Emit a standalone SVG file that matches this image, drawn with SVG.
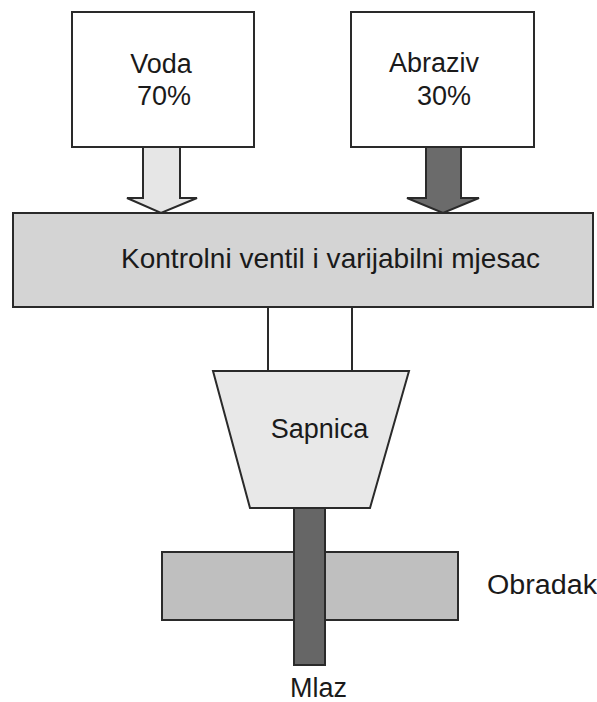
<svg xmlns="http://www.w3.org/2000/svg" width="597" height="702" viewBox="0 0 597 702">
<style>
.t{font-family:"Liberation Sans",Arial,sans-serif;fill:#1a1a1a;}
.b{stroke:#2a2a2a;stroke-width:2;}
</style>
<rect width="597" height="702" fill="#fff"/>
<g id="connectors">
<path d="M143,147 V198 H127 L161,213 L197,198 H180 V147 Z" fill="#e6e6e6" class="b"/>
<path d="M426,147 V198 H407 L443,213 L479,198 H461 V147 Z" fill="#6b6b6b" class="b"/>
<line x1="268" y1="307" x2="268" y2="371" class="b"/>
<line x1="352" y1="307" x2="352" y2="371" class="b"/>
</g>
<g id="voda">
<rect x="72" y="12" width="182" height="135" fill="#fff" class="b"/>
<text class="t" x="161" y="73" font-size="27" text-anchor="middle">Voda</text>
<text class="t" x="164" y="105" font-size="27" text-anchor="middle">70%</text>
</g>
<g id="abraziv">
<rect x="351" y="12" width="183" height="135" fill="#fff" class="b"/>
<text class="t" x="434" y="72" font-size="27" text-anchor="middle">Abraziv</text>
<text class="t" x="444" y="105" font-size="27" text-anchor="middle">30%</text>
</g>
<g id="mjesac">
<rect x="13" y="213" width="580" height="94" fill="#d4d4d4" class="b"/>
<text class="t" x="121" y="268" font-size="28" textLength="419" lengthAdjust="spacingAndGlyphs">Kontrolni ventil i varijabilni mjesac</text>
</g>
<g id="sapnica">
<path d="M213,371 H409 L370,508 H250 Z" fill="#e8e8e8" class="b"/>
<text class="t" x="319.5" y="438" font-size="27" text-anchor="middle">Sapnica</text>
</g>
<g id="obradak">
<rect x="162" y="552" width="296" height="68" fill="#bfbfbf" class="b"/>
<text class="t" x="487" y="594" font-size="27" textLength="110" lengthAdjust="spacingAndGlyphs">Obradak</text>
</g>
<g id="mlaz">
<rect x="294" y="508" width="31" height="157" fill="#666" class="b"/>
<text class="t" x="318.5" y="697" font-size="27" text-anchor="middle">Mlaz</text>
</g>
</svg>
